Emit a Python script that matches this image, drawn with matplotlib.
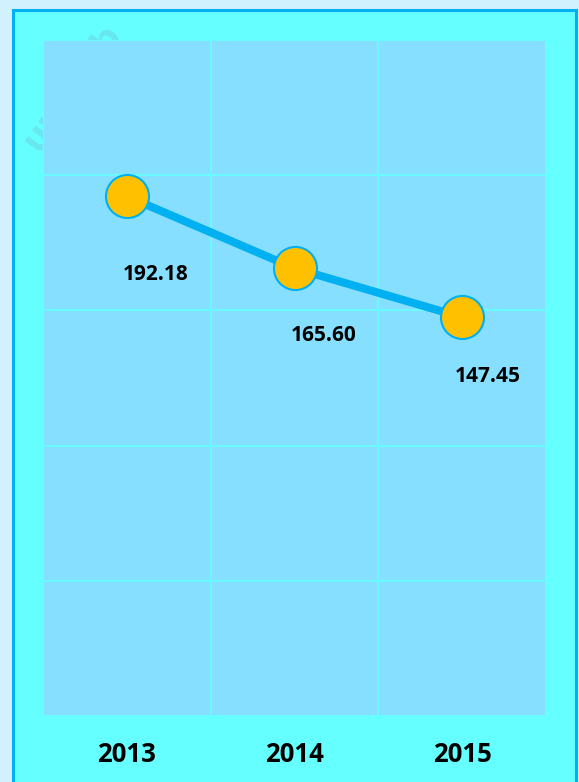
import matplotlib
matplotlib.use("Agg")
import matplotlib.pyplot as plt
from matplotlib.patches import Rectangle

years = ["2013", "2014", "2015"]
values = [192.18, 165.60, 147.45]
value_labels = ["192.18", "165.60", "147.45"]

W, H = 579, 782
FONT = "Open Sans"
fig = plt.figure(figsize=(W / 100, H / 100), dpi=100)
fig.patch.set_facecolor("#D2F1FE")

# outer frame
frame = Rectangle((12.5 / W, -0.05), (576 - 12.5) / W, 1.05 - 9.5 / H,
                  transform=fig.transFigure, facecolor="#66FFFF",
                  edgecolor="#00B0F0", linewidth=2.2, zorder=-2)
fig.add_artist(frame)

# watermark
fig.text(72 / W, 1 - 88 / H, "ungkab", rotation=55, fontsize=25, fontweight="bold",
         color="#6CCBDD", alpha=0.45, ha="center", va="center", family="DejaVu Sans", zorder=-1)

ax = fig.add_axes([43 / W, 1 - 716 / H, (546 - 43) / W, (716 - 40) / H])
ax.set_zorder(1)
ax.set_facecolor("#87DFFF")
x = list(range(len(years)))
ax.plot(x, values, color="#00B0F0", linewidth=5.8, marker="o", markersize=31,
        markerfacecolor="#FFC000", markeredgecolor="#00B0F0", markeredgewidth=1.5,
        zorder=3, solid_capstyle="butt")

offsets = [(29, -78), (29, -67), (26, -59)]
for xi, v, lab, off in zip(x, values, value_labels, offsets):
    ax.annotate(lab, (xi, v), xytext=(off[0] * 0.72, off[1] * 0.72), textcoords="offset points",
                ha="center", va="center", fontsize=15, fontweight="bold",
                family=FONT, color="black", zorder=4)

ax.set_xlim(-0.5, len(years) - 0.5)
ax.set_ylim(0, 250)
ax.set_yticks([0, 50, 100, 150, 200, 250])
ax.set_xticks([-0.5, 0.5, 1.5, 2.5])
ax.set_xticklabels([])
ax.grid(True, color="#66FFFF", linewidth=1.3, zorder=1)
ax.set_axisbelow(True)
ax.tick_params(length=0, labelleft=False)
for s in ax.spines.values():
    s.set_visible(False)

for xi, yr in zip(x, years):
    ax.annotate(yr, (xi, 0), xycoords=("data", "axes fraction"),
                xytext=(0, -39 * 0.72), textcoords="offset points",
                ha="center", va="center", fontsize=18.5, fontweight="bold",
                family=FONT, color="black", annotation_clip=False)

fig.savefig("out.png", dpi=100, facecolor=fig.get_facecolor())
